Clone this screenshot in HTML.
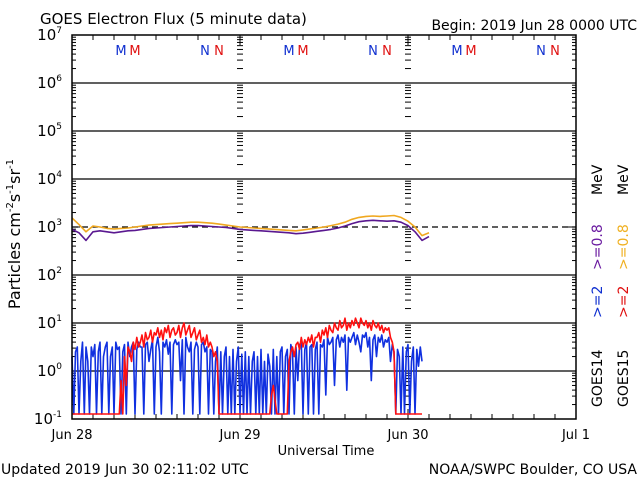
<!DOCTYPE html>
<html><head><meta charset="utf-8">
<style>
html,body{margin:0;padding:0;background:#fff;}
svg{display:block;font-family:"DejaVu Sans","Liberation Sans",sans-serif;}
</style></head>
<body>
<svg id="chart" width="640" height="480" viewBox="0 0 640 480" xmlns="http://www.w3.org/2000/svg">
<text x="40" y="24" font-size="15">GOES Electron Flux (5 minute data)</text>
<text x="637" y="30" font-size="14" text-anchor="end">Begin: 2019 Jun 28 0000 UTC</text>
<text transform="translate(20,234) rotate(-90)" font-size="16" text-anchor="middle">Particles cm<tspan dy="-7" font-size="10">-2</tspan><tspan dy="7">s</tspan><tspan dy="-7" font-size="10">-1</tspan><tspan dy="7">sr</tspan><tspan dy="-7" font-size="10">-1</tspan></text>
<text x="326" y="455" font-size="13" text-anchor="middle">Universal Time</text>
<text x="1" y="474" font-size="14">Updated 2019 Jun 30 02:11:02 UTC</text>
<text x="637" y="474" font-size="14" text-anchor="end">NOAA/SWPC Boulder, CO USA</text>
<g font-size="14">
<text transform="translate(602,407) rotate(-90)">GOES14</text>
<text transform="translate(602,318) rotate(-90)" fill="#1030d0">&gt;=2</text>
<text transform="translate(602,270) rotate(-90)" fill="#6a1aa0">&gt;=0.8</text>
<text transform="translate(602,195) rotate(-90)">MeV</text>
</g>
<g font-size="14">
<text transform="translate(628,407) rotate(-90)">GOES15</text>
<text transform="translate(628,318) rotate(-90)" fill="#e01010">&gt;=2</text>
<text transform="translate(628,270) rotate(-90)" fill="#f0b020">&gt;=0.8</text>
<text transform="translate(628,195) rotate(-90)">MeV</text>
</g>
<g id="plot"></g>
</svg>
<script>
const decades = [7,6,5,4,3,2,1,0,-1];
const dayLabels = ["Jun 28","Jun 29","Jun 30","Jul 1"];
// log10 flux, hourly from Jun 28 00:00
const g14Low = [2.95,2.88,2.72,2.9,2.92,2.9,2.88,2.9,2.92,2.93,2.95,2.97,2.98,2.99,3.0,3.01,3.02,3.03,3.03,3.02,3.01,3.0,2.99,2.97,2.95,2.94,2.93,2.92,2.91,2.9,2.89,2.88,2.86,2.87,2.89,2.91,2.93,2.95,2.98,3.02,3.07,3.11,3.13,3.14,3.13,3.12,3.13,3.1,3.03,2.9,2.72,2.8];
const g15Low = [3.19,3.05,2.9,3.02,3.0,2.97,2.96,2.97,2.98,3.0,3.02,3.04,3.05,3.06,3.07,3.08,3.09,3.1,3.1,3.09,3.08,3.06,3.04,3.02,3.0,2.99,2.98,2.97,2.96,2.95,2.94,2.93,2.92,2.94,2.96,2.98,3.0,3.03,3.06,3.1,3.16,3.2,3.22,3.23,3.22,3.23,3.24,3.2,3.12,3.0,2.82,2.88];
// log10 flux, quarter-hourly from Jun 28 00:00
const g14High = [0.3,-1,0.4,0.5,-1,0.2,0.6,-1,0.5,0.2,-1,0.5,0.3,0.55,-1,0.4,0.6,-1,0.3,0.5,
0.6,-1,0.3,0.5,-1,0.6,0.45,0.5,-1,0.4,0.55,-1,0.6,0.3,0.5,0.6,-1,0.45,0.6,0.5,
0.5,-1,0.55,0.6,0.2,0.45,0.65,-1,0.5,0.7,0.4,-1,0.6,0.5,0.65,0.35,0.6,-1,0.55,0.65,
0.55,0.6,-0.2,0.65,-1,0.7,0.5,0.4,0.6,-1,0.45,0.6,0.5,-1,0.55,0.6,0.4,0.5,-1,0.45,
0.4,-1,0.2,0.5,-1,0.4,-1,0.3,0.5,-1,0.3,-1,0.45,-1,0.2,0.5,-1,0.35,-1,0.4,
-1,0.3,-1,0.2,0.4,-1,0.3,-1,0.45,-1,0.2,-1,0.35,0.1,-1,0.45,-1,0.3,-1,0.4,
0.5,-1,0.3,0.45,-1,0.55,0.4,-1,0.5,-0.2,0.55,0.6,-1,0.45,0.6,-1,0.5,0.55,-1,0.45,
0.6,-1,0.55,0.5,0.65,-0.5,0.7,0.55,0.6,0.7,-0.3,0.65,0.75,0.5,0.7,0.6,0.75,-0.4,0.7,0.6,
0.7,0.8,0.55,0.75,0.6,0.4,0.75,0.7,0.8,0.5,0.7,-0.2,0.65,0.75,0.3,0.7,0.6,0.75,0.5,0.65,
0.6,0.7,0.2,0.55,0.4,-1,0.45,0.3,-1,0.5,-1,0.4,0.55,-1,0.2,0.5,-1,0.45,0.1,0.5,0.2];
const g15High = [-1,-1,-1,-1,-1,-1,-1,-1,-1,-1,-1,-1,-1,-1,-1,-1,-1,-1,-1,-1,
-1,-1,-1,-1,-1,-1,-1,-1,-0.2,-1,0.3,-0.3,0.5,0.4,0.2,0.6,0.45,0.7,0.5,0.6,
0.75,0.5,0.8,0.65,0.7,0.85,0.6,0.8,0.75,0.9,0.7,0.85,0.65,0.9,0.8,0.95,0.7,0.85,0.9,0.75,
0.8,0.95,0.7,0.9,1.0,0.75,0.85,0.95,0.7,0.8,0.9,0.65,0.75,0.85,0.6,0.7,0.55,0.75,0.5,0.6,
0.5,0.3,0.4,0.2,-1,-1,-1,-1,-1,-1,-1,-1,-1,-1,-1,-1,-1,-1,-1,-1,
-1,-1,-1,-1,-1,-1,-1,-1,-1,-1,-1,-1,-1,-1,-0.5,-0.3,-0.6,-1,-1,-1,
-1,-1,-1,-1,0.2,0.4,0.5,0.3,0.55,0.6,0.45,0.7,0.5,0.65,0.55,0.7,0.6,0.75,0.5,0.7,
0.7,0.8,0.6,0.85,0.75,0.9,0.7,0.95,0.85,0.8,1.0,0.9,0.85,1.05,0.9,0.95,1.1,0.85,1.0,0.9,
1.05,0.95,1.1,1.0,0.9,1.1,1.0,0.95,1.05,0.9,1.0,0.85,1.05,0.95,0.9,1.0,0.85,0.95,0.8,0.9,
0.85,0.9,0.7,0.6,0.4,-1,-1,-1,-1,-1,-1,-1,-1,-1,-1,-1,-1,-1,-1,-1,-1];

const X0=72, DAY=168, YTOP=35, DEC=48, XR=576, YB=419;
const xH = h => X0 + h*DAY/24;
const yL = v => Math.min(414, 371 - DEC*v);
const NS="http://www.w3.org/2000/svg";
const plot=document.getElementById('plot');
function mk(tag,attrs,parent){const e=document.createElementNS(NS,tag);for(const k in attrs)e.setAttribute(k,attrs[k]);(parent||plot).appendChild(e);return e;}

decades.forEach(d=>{
  const y=371-DEC*d;
  if(d<7&&d>-1){const l=mk('line',{x1:X0,x2:XR,y1:y,y2:y,stroke:'#000','stroke-width':1.3,'stroke-dasharray':d===3?'6,4':'none'});
  
  }
  const t=mk('text',{x:62,y:y+5,'font-size':15,'text-anchor':'end'});
  
  
  t.textContent='10';
  const s=mk('tspan',{dy:-7,'font-size':9},t);s.textContent=d;
  if(d>-1){for(let m=2;m<=9;m++){const yy=371-DEC*(d-1+Math.log10(m));
    [[X0,X0+4],[XR-4,XR],[xH(24)-3,xH(24)+3],[xH(48)-3,xH(48)+3]].forEach(p=>mk('line',{x1:p[0],x2:p[1],y1:yy,y2:yy,stroke:'#000','stroke-width':1}));}}
  [[X0,X0+8],[XR-8,XR]].forEach(p=>mk('line',{x1:p[0],x2:p[1],y1:y,y2:y,stroke:'#000','stroke-width':1}));
});
for(let h=0;h<=72;h+=3){const x=xH(h);const L=h%24===0?10:5;
  mk('line',{x1:x,x2:x,y1:YB,y2:YB-L,stroke:'#000'});mk('line',{x1:x,x2:x,y1:YTOP,y2:YTOP+L,stroke:'#000'});}
dayLabels.forEach((lab,i)=>{const t=mk('text',{x:xH(24*i),y:439,'font-size':13,'text-anchor':'middle'});
  
  
  t.textContent=lab;});
for(let dd=0;dd<3;dd++){const b=X0+DAY*dd;
  [['M',49,'#1030d0'],['M',63,'#e01010'],['N',133,'#1030d0'],['N',147,'#e01010']].forEach(m=>{
    const t=mk('text',{x:b+m[1],y:55,'font-size':13,fill:m[2],'text-anchor':'middle'});
    
    
    t.textContent=m[0];});}
function series(arr,step,color,name,w){
  const pts=arr.map((v,i)=>xH(i*step).toFixed(1)+','+yL(v).toFixed(1)).join(' ');
  const p=mk('polyline',{points:pts,fill:'none',stroke:color,'stroke-width':w,'stroke-linejoin':'round'});
  
  
}
series(g14High,0.25,'#1030e0','series-goes14-2mev',1.6);
series(g15High,0.25,'#ff1010','series-goes15-2mev',1.6);
series(g15Low,1,'#f0a820','series-goes15-08mev',1.6);
series(g14Low,1,'#5a1890','series-goes14-08mev',1.6);
const box=mk('rect',{x:X0,y:YTOP,width:XR-X0,height:YB-YTOP,fill:'none',stroke:'#000','stroke-width':1.5});


</script>
</body></html>
